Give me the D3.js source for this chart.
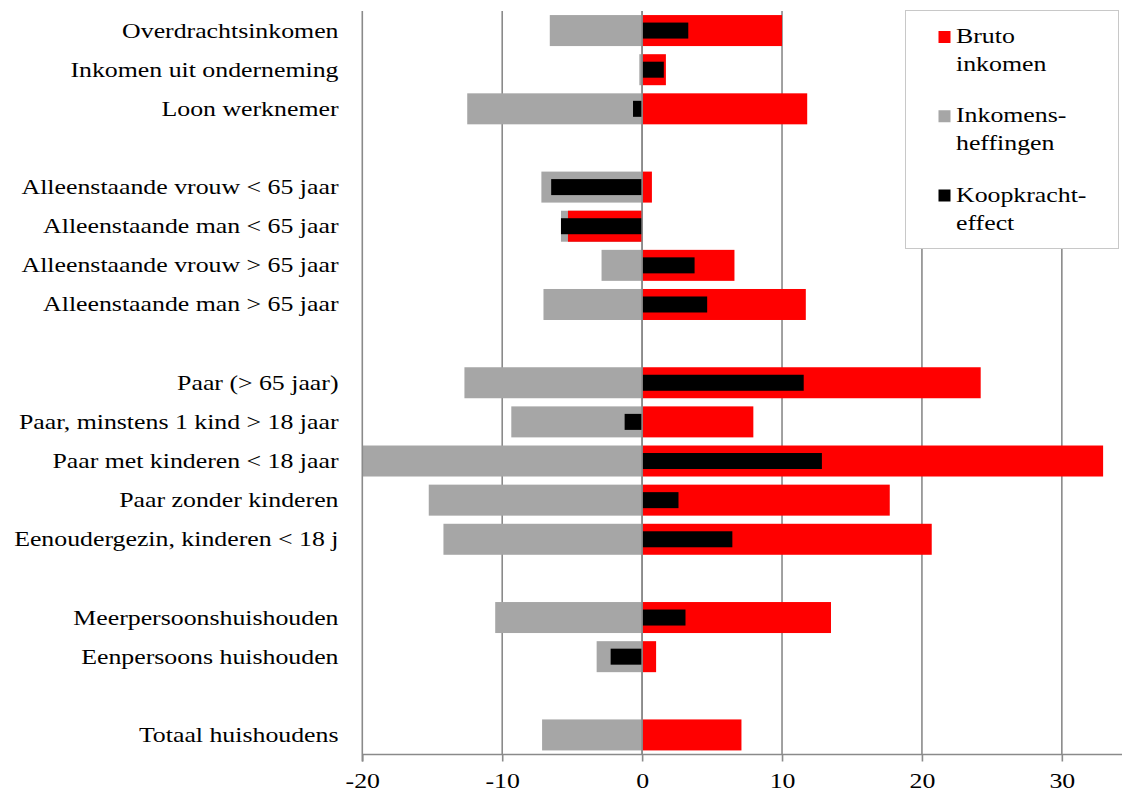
<!DOCTYPE html>
<html>
<head>
<meta charset="utf-8">
<script src="https://cdn.jsdelivr.net/npm/d3@7"></script>
<style>
  html, body { margin: 0; padding: 0; background: #fff; }
  svg { display: block; }
</style>
</head>
<body>
<svg id="chart" width="1122" height="793"></svg>
<script>
// Huishoudtypes en inkomensbronnen (lege regels scheiden de groepen)
const categories = [
  "Overdrachtsinkomen",
  "Inkomen uit onderneming",
  "Loon werknemer",
  "",
  "Alleenstaande vrouw < 65 jaar",
  "Alleenstaande man < 65 jaar",
  "Alleenstaande vrouw > 65 jaar",
  "Alleenstaande man > 65 jaar",
  "",
  "Paar (> 65 jaar)",
  "Paar, minstens 1 kind > 18 jaar",
  "Paar met kinderen < 18 jaar",
  "Paar zonder kinderen",
  "Eenoudergezin, kinderen < 18 j",
  "",
  "Meerpersoonshuishouden",
  "Eenpersoons huishouden",
  "",
  "Totaal huishoudens"
];

const brutoInkomen = [10.0, 1.7, 11.8, null, 0.7, -5.3, 6.6, 11.7, null, 24.2, 7.95, 32.95, 17.7, 20.7, null, 13.5, 1.0, null, 7.1];
const inkomensheffingen = [-6.6, -0.2, -12.5, null, -7.2, -5.8, -2.9, -7.05, null, -12.7, -9.35, -20.0, -15.25, -14.2, null, -10.5, -3.25, null, -7.15];
const koopkrachteffect = [3.3, 1.55, -0.65, null, -6.5, -5.8, 3.75, 4.65, null, 11.55, -1.25, 12.85, 2.6, 6.45, null, 3.1, -2.25, null, 0.0];

const xTicks = [-20, -10, 0, 10, 20, 30];

const legendItems = [
  { lines: ["Bruto", "inkomen"], color: "#ff0000" },
  { lines: ["Inkomens-", "heffingen"], color: "#a6a6a6" },
  { lines: ["Koopkracht-", "effect"], color: "#000000" }
];

const svg = d3.select("#chart");
const FONT = '"Liberation Serif", "Times New Roman", Tinos, serif';
const stretch = 1.23;          // horizontaal verbrede schreeftletter
const fontSize = 21;

function styleText(sel) {
  return sel.style("font-family", FONT).style("font-size", fontSize + "px").style("fill", "#000");
}

const plot = { left: 362.3, right: 1122, top: 11, bottom: 754.5 };

const x = d3.scaleLinear().domain([-20, 34.3]).range([plot.left, plot.right]);
const y = d3.scaleBand().domain(d3.range(categories.length)).range([plot.top, plot.bottom]).paddingInner(0).paddingOuter(0);

const gridColor = "#8a8a8a";

// verticale rasterlijnen
svg.append("g").selectAll("line")
  .data(xTicks.filter(t => t !== -20))
  .join("line")
  .attr("x1", d => x(d)).attr("x2", d => x(d))
  .attr("y1", plot.top).attr("y2", plot.bottom)
  .attr("stroke", gridColor).attr("stroke-width", 1.6);

// balken
const wide = 31, narrow = 16;
function bars(values, color, h) {
  svg.append("g").selectAll("rect")
    .data(values.map((v, i) => ({ v, i })).filter(d => d.v !== null && d.v !== 0))
    .join("rect")
    .attr("x", d => Math.min(x(0), x(d.v)))
    .attr("width", d => Math.abs(x(d.v) - x(0)))
    .attr("y", d => y(d.i) + y.bandwidth() / 2 - h / 2)
    .attr("height", h)
    .attr("fill", color);
}
bars(inkomensheffingen, "#a6a6a6", wide);
bars(brutoInkomen, "#ff0000", wide);
bars(koopkrachteffect, "#000000", narrow);

// nullijn boven de balken
svg.append("line")
  .attr("x1", x(0)).attr("x2", x(0))
  .attr("y1", plot.top).attr("y2", plot.bottom)
  .attr("stroke", gridColor).attr("stroke-width", 1.6);

// x-as
const xAxis = d3.axisBottom(x).tickValues(xTicks).tickSize(7).tickFormat(d => String(d));
const gx = svg.append("g").attr("transform", `translate(0,${plot.bottom})`).call(xAxis);
gx.select(".domain").attr("stroke", gridColor).attr("stroke-width", 1.6)
  .attr("d", `M${plot.left},0H${plot.right}`);
gx.selectAll(".tick line").attr("stroke", gridColor).attr("stroke-width", 1.6);
styleText(gx.selectAll(".tick text"))
  .attr("y", 0).attr("dy", 0)
  .attr("transform", `translate(0,33) scale(${stretch},1)`);

// y-as (linker verticale lijn)
svg.append("line")
  .attr("x1", plot.left).attr("x2", plot.left)
  .attr("y1", plot.top).attr("y2", plot.bottom + 7)
  .attr("stroke", gridColor).attr("stroke-width", 1.6);

// categorielabels
styleText(svg.append("g").selectAll("text")
  .data(categories.map((c, i) => ({ c, i })).filter(d => d.c !== ""))
  .join("text"))
  .attr("text-anchor", "end")
  .attr("transform", d => `translate(338.5,${y(d.i) + y.bandwidth() / 2 + 7}) scale(${stretch},1)`)
  .text(d => d.c);

// legenda
const lg = svg.append("g");
lg.append("rect")
  .attr("x", 905.5).attr("y", 10.5).attr("width", 213).attr("height", 238)
  .attr("fill", "#fff").attr("stroke", "#c8c8c8").attr("stroke-width", 1);
const lgRow = d3.scalePoint().domain(d3.range(legendItems.length)).range([43, 201.5]);
legendItems.forEach((it, k) => {
  const base = lgRow(k);
  lg.append("rect")
    .attr("x", 938.5).attr("y", base - 12).attr("width", 12).attr("height", 12)
    .attr("fill", it.color);
  it.lines.forEach((ln, j) => {
    styleText(lg.append("text"))
      .attr("transform", `translate(956,${base + j * 28}) scale(${stretch},1)`)
      .text(ln);
  });
});
</script>
</body>
</html>
